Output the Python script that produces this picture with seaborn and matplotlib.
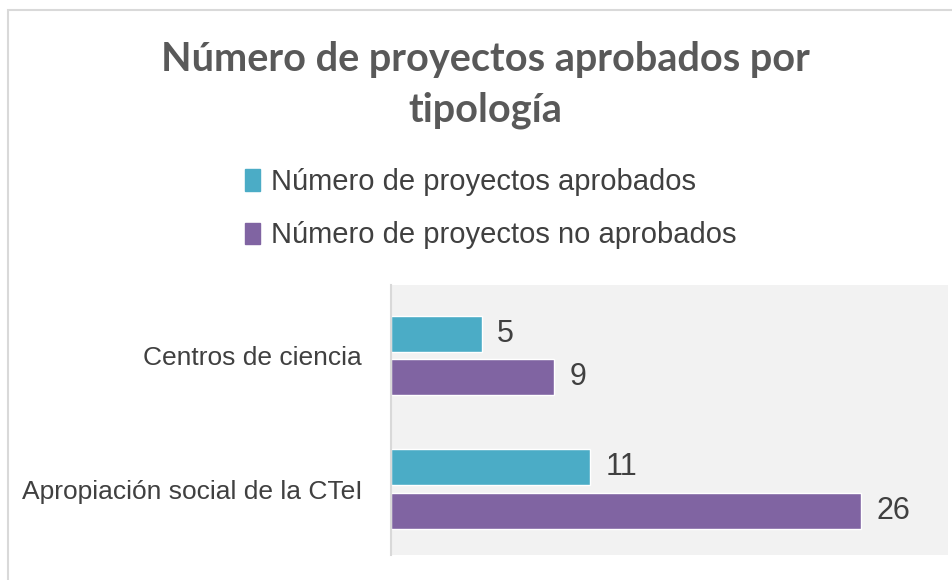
import matplotlib
matplotlib.use("Agg")
import matplotlib.pyplot as plt
import seaborn as sns
import pandas as pd
from matplotlib.patches import Rectangle

# data
categorias = ["Centros de ciencia", "Apropiación social de la CTeI"]
aprobados = [5, 11]
no_aprobados = [9, 26]
series = ["Número de proyectos aprobados", "Número de proyectos no aprobados"]
colores = ["#4BACC6", "#8064A2"]

df = pd.DataFrame({
    "tipologia": categorias * 2,
    "serie": [series[0]] * 2 + [series[1]] * 2,
    "valor": aprobados + no_aprobados,
})

sns.set_theme(style="white")
plt.rcParams["font.family"] = ["Liberation Sans", "DejaVu Sans"]
texto = "#404040"

fig = plt.figure(figsize=(9.52, 5.8), dpi=100)
ax = fig.add_axes([0.411, 0.043, 0.585, 0.466])

sns.barplot(data=df, y="tipologia", x="valor", hue="serie", order=categorias,
            hue_order=series, palette=colores, orient="h", width=0.65, gap=0.17,
            saturation=1, ax=ax, legend=False)

ax.set_facecolor("#f2f2f2")
ax.set_xlim(0, 30.8)
ax.set_ylim(1.494, -0.528)
ax.set_xticks([])
ax.set_xlabel("")
ax.set_ylabel("")
for s in ["top", "right", "bottom"]:
    ax.spines[s].set_visible(False)
ax.spines["left"].set_color("#d9d9d9")
ax.spines["left"].set_linewidth(1.5)
ax.tick_params(axis="y", length=0, pad=21, labelsize=19, labelcolor=texto)

for cont in ax.containers:
    ax.bar_label(cont, padding=11, fontsize=22, color=texto)

fig.suptitle("Número de proyectos aprobados por\ntipología", x=0.51, y=0.93,
             fontsize=28.5, fontweight="bold", color="#595959",
             family=["Lato", "DejaVu Sans"], linespacing=1.45)

handles = [Rectangle((0, 0), 1, 1, color=c) for c in colores]
fig.legend(handles, series, loc="upper left", bbox_to_anchor=(0.23, 0.755),
           frameon=False, fontsize=21, labelcolor=texto, handlelength=0.52,
           handleheight=0.75, handletextpad=0.35, labelspacing=0.86)

# outer chart frame
fig.patches.append(Rectangle((0.008, -0.05), 1.1, 1.032, transform=fig.transFigure,
                             fill=False, edgecolor="#d9d9d9", linewidth=1.5))

fig.savefig("out.png", dpi=100)
